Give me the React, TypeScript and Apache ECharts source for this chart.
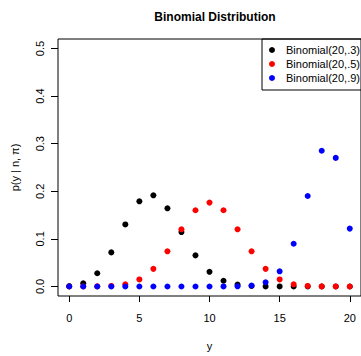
import React, { useEffect, useRef } from "react";
import * as echarts from "echarts";

const yValues = [0,1,2,3,4,5,6,7,8,9,10,11,12,13,14,15,16,17,18,19,20];
const p3 = [0.0008,0.0068,0.0278,0.0716,0.1304,0.1789,0.1916,0.1643,0.1144,0.0654,0.0308,0.0120,0.0039,0.0010,0.0002,0.00004,0.000005,0,0,0,0];
const p5 = [0.000001,0.00002,0.0002,0.0011,0.0046,0.0148,0.0370,0.0739,0.1201,0.1602,0.1762,0.1602,0.1201,0.0739,0.0370,0.0148,0.0046,0.0011,0.0002,0.00002,0.000001];
const p9 = [0,0,0,0,0,0,0,0,0,0,0.000006,0.00005,0.0004,0.0020,0.0089,0.0319,0.0898,0.1901,0.2852,0.2702,0.1216];
const seriesNames = ["Binomial(20,.3)", "Binomial(20,.5)", "Binomial(20,.9)"];
const seriesColors = ["#000000", "#ff0000", "#0000ff"];
const xTicks = [0, 5, 10, 15, 20];
const yTicks = [0, 0.1, 0.2, 0.3, 0.4, 0.5];

export default function App() {
  const ref = useRef<HTMLDivElement>(null);
  useEffect(() => {
    if (!ref.current) return;
    const chart = echarts.init(ref.current, null, { renderer: "svg" });
    const font = "Liberation Sans, Arial, Helvetica, sans-serif";
    const all = [p3, p5, p9];
    chart.setOption({
      animation: false,
      textStyle: { fontFamily: font },
      title: {
        text: "Binomial Distribution",
        left: 210,
        top: 6,
        textAlign: "center",
        textStyle: { fontSize: 12, fontWeight: "bold", color: "#000", fontFamily: font },
      },
      legend: {
        orient: "vertical",
        left: 262,
        top: 39,
        data: seriesNames,
        icon: "circle",
        itemWidth: 6,
        itemHeight: 6,
        itemGap: 2,
        borderColor: "#000",
        borderWidth: 1,
        borderRadius: 0,
        padding: [5, 30, 6, 7],
        textStyle: { fontSize: 11, color: "#000", padding: [0, 0, 0, 6], lineHeight: 12, fontFamily: font },
      },
      grid: { left: 58, top: 39, width: 304, height: 267, show: true, borderColor: "#000", borderWidth: 1, containLabel: false },
      xAxis: {
        type: "value",
        min: -0.8,
        max: 20.8,
        name: "y",
        nameLocation: "middle",
        nameGap: 44,
        nameTextStyle: { fontSize: 11, color: "#000", fontFamily: font },
        axisLine: { show: false, onZero: false },
        splitLine: { show: false },
        axisTick: { show: true, length: 6, customValues: xTicks, lineStyle: { color: "#000" } },
        axisLabel: { customValues: xTicks, margin: 16, fontSize: 11, color: "#000", fontFamily: font },
      },
      yAxis: {
        type: "value",
        min: -0.02,
        max: 0.52,
        name: "p(y | n, π)",
        nameLocation: "middle",
        nameGap: 38,
        nameTextStyle: { fontSize: 11, color: "#000", fontFamily: font },
        axisLine: { show: false, onZero: false },
        splitLine: { show: false },
        axisTick: { show: true, length: 7, customValues: yTicks, lineStyle: { color: "#000" } },
        axisLabel: {
          customValues: yTicks,
          rotate: 90,
          margin: 13,
          fontSize: 11,
          color: "#000",
          fontFamily: font,
          formatter: (v: number) => v.toFixed(1),
        },
      },
      series: all.map((arr, i) => ({
        name: seriesNames[i],
        type: "scatter",
        symbol: "circle",
        symbolSize: 6,
        itemStyle: { color: seriesColors[i], opacity: 1 },
        data: yValues.map((y, j) => [y, arr[j]]),
        z: 2 + i,
      })),
    });
    return () => chart.dispose();
  }, []);
  return <div ref={ref} style={{ width: 361, height: 356, position: "absolute", left: 0, top: 0 }} />;
}
